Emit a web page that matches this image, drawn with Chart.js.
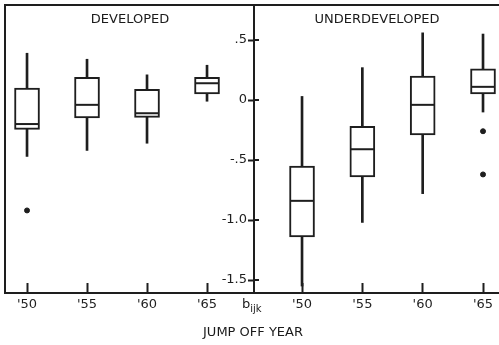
<!DOCTYPE html>
<html>
<head>
<meta charset="utf-8">
<script src="https://cdn.jsdelivr.net/npm/chart.js@4"></script>
<style>
  body { margin: 0; background: #fff; }
  #wrap { position: relative; width: 499px; height: 345px; overflow: hidden; font-family: "DejaVu Sans", sans-serif; color: #1a1a1a; }
  #wrap canvas { position: absolute; left: 0; top: 0; }
  .lbl { position: absolute; font-size: 13px; white-space: nowrap; }
  sub { font-size: 10px; }
</style>
</head>
<body>
<div id="wrap">
  <canvas id="devChart" width="499" height="345"></canvas>
  <canvas id="undChart" width="499" height="345"></canvas>
  <div class="lbl" style="left:60px;top:11px;width:140px;text-align:center;">DEVELOPED</div>
  <div class="lbl" style="left:297px;top:11px;width:160px;text-align:center;">UNDERDEVELOPED</div>
  <div class="lbl" style="left:242px;top:296px;">b<sub>ijk</sub></div>
  <div class="lbl" style="left:153px;top:324px;width:200px;text-align:center;">JUMP OFF YEAR</div>
</div>
<script>
var years = ["'50", "'55", "'60", "'65"];

var devLow  = [-0.47, -0.42, -0.36, -0.01];
var devQ1   = [-0.245, -0.15, -0.145, 0.05];
var devMed  = [-0.20, -0.04, -0.11, 0.14];
var devQ3   = [0.10, 0.19, 0.09, 0.19];
var devHigh = [0.39, 0.34, 0.21, 0.29];
var devOut  = [[-0.92], [], [], []];

var undLow  = [-1.55, -1.02, -0.78, -0.10];
var undQ1   = [-1.14, -0.64, -0.29, 0.05];
var undMed  = [-0.84, -0.41, -0.04, 0.11];
var undQ3   = [-0.55, -0.22, 0.20, 0.26];
var undHigh = [0.03, 0.27, 0.56, 0.55];
var undOut  = [[], [], [], [-0.26, -0.62]];

var yTicks = [0.5, 0, -0.5, -1.0, -1.5];
var yMin = -1.608, yMax = 0.792;

var ink = '#1e1e1e';
Chart.defaults.font.family = '"DejaVu Sans", sans-serif';
Chart.defaults.font.size = 13;
Chart.defaults.color = ink;

function boxDatasets(low, q1, med, q3, high, out) {
    var whisk = [], box = [], mid = [], dots = [];
    for (var i = 0; i < years.length; i++) {
        whisk.push({x: i, y: [low[i], high[i]]});
        box.push({x: i, y: [q1[i], q3[i]]});
        mid.push({x: i, y: med[i]});
        out[i].forEach(function(v) { dots.push({x: i, y: v}); });
    }
    return [
        {type: 'bar', data: whisk, backgroundColor: ink, barThickness: 2, grouped: false, order: 4},
        {type: 'bar', data: box, backgroundColor: '#fff', borderColor: ink, borderWidth: 2,
         borderSkipped: false, barThickness: 25, grouped: false, order: 3},
        {type: 'line', data: mid, showLine: false, pointStyle: 'line', pointRadius: 12,
         pointBorderWidth: 2, pointBorderColor: ink, order: 2},
        {type: 'line', data: dots, showLine: false, pointStyle: 'circle', pointRadius: 2.5,
         pointBackgroundColor: ink, pointBorderColor: ink, order: 1}
    ];
}

let fixedTicks = (list) => (scale) => { scale.ticks = list.map(v => ({value: v})); };

// scales should not push the plot area in for their labels
let noPad = (s) => { s.paddingLeft = s.paddingRight = s.paddingTop = s.paddingBottom = 0; };

function xAxis(min, max) {
    return {
        type: 'linear', position: 'bottom', min: min, max: max, offset: false,
        afterBuildTicks: fixedTicks([0, 1, 2, 3]),
        afterFit: s => { s.height = 30; noPad(s); },
        grid: {offset: false, drawOnChartArea: false, tickLength: -10, tickColor: ink, tickWidth: 2},
        border: {color: ink, width: 2},
        ticks: {padding: 14, callback: v => years[v], maxRotation: 0, autoSkip: false}
    };
}

function topAxis() {
    return {
        type: 'linear', position: 'top', min: 0, max: 1, offset: false,
        afterFit: s => { s.height = 0; noPad(s); },
        grid: {display: false, drawTicks: false},
        border: {color: ink, width: 2},
        ticks: {display: false}
    };
}

// inner half of the y tick marks on the divider
const innerTicks = {
    id: 'innerTicks',
    afterDraw(chart) {
        const s = chart.scales.y, ctx = chart.ctx;
        ctx.save();
        ctx.strokeStyle = ink;
        ctx.lineWidth = 2;
        yTicks.forEach(v => {
            const y = Math.round(s.getPixelForValue(v));
            ctx.beginPath();
            ctx.moveTo(s.right, y);
            ctx.lineTo(s.right + 5, y);
            ctx.stroke();
        });
        ctx.restore();
    }
};

var common = {
    responsive: false,
    animation: false,
    plugins: {legend: {display: false}, tooltip: {enabled: false}}
};

new Chart(document.getElementById('devChart'), {
    type: 'bar',
    data: {datasets: boxDatasets(devLow, devQ1, devMed, devQ3, devHigh, devOut)},
    options: Object.assign({}, common, {
        layout: {autoPadding: false, padding: {left: 5, right: 245, top: 5, bottom: 22}},
        scales: {
            x: xAxis(-0.367, 3.783),
            xTop: topAxis(),
            y: {
                min: yMin, max: yMax,
                afterFit: s => { s.width = 0; noPad(s); },
                grid: {display: false, drawTicks: false},
                border: {color: ink, width: 2},
                ticks: {display: false}
            }
        }
    })
});

new Chart(document.getElementById('undChart'), {
    type: 'bar',
    data: {datasets: boxDatasets(undLow, undQ1, undMed, undQ3, undHigh, undOut)},
    options: Object.assign({}, common, {
        layout: {autoPadding: false, padding: {left: 200, right: 0, top: 5, bottom: 22}},
        scales: {
            x: xAxis(-0.796, 3.265),
            xTop: topAxis(),
            y: {
                min: yMin, max: yMax,
                afterBuildTicks: fixedTicks(yTicks),
                afterFit: s => { s.width = 54; noPad(s); },
                grid: {drawOnChartArea: false, tickLength: 6, tickColor: ink, tickWidth: 2},
                border: {color: ink, width: 2},
                ticks: {padding: 1, callback: v => v === 0 ? '0' : (v % 1 === 0 ? v.toFixed(1) : String(v).replace('0.', '.'))}
            }
        }
    }),
    plugins: [innerTicks]
});
</script>
</body>
</html>
